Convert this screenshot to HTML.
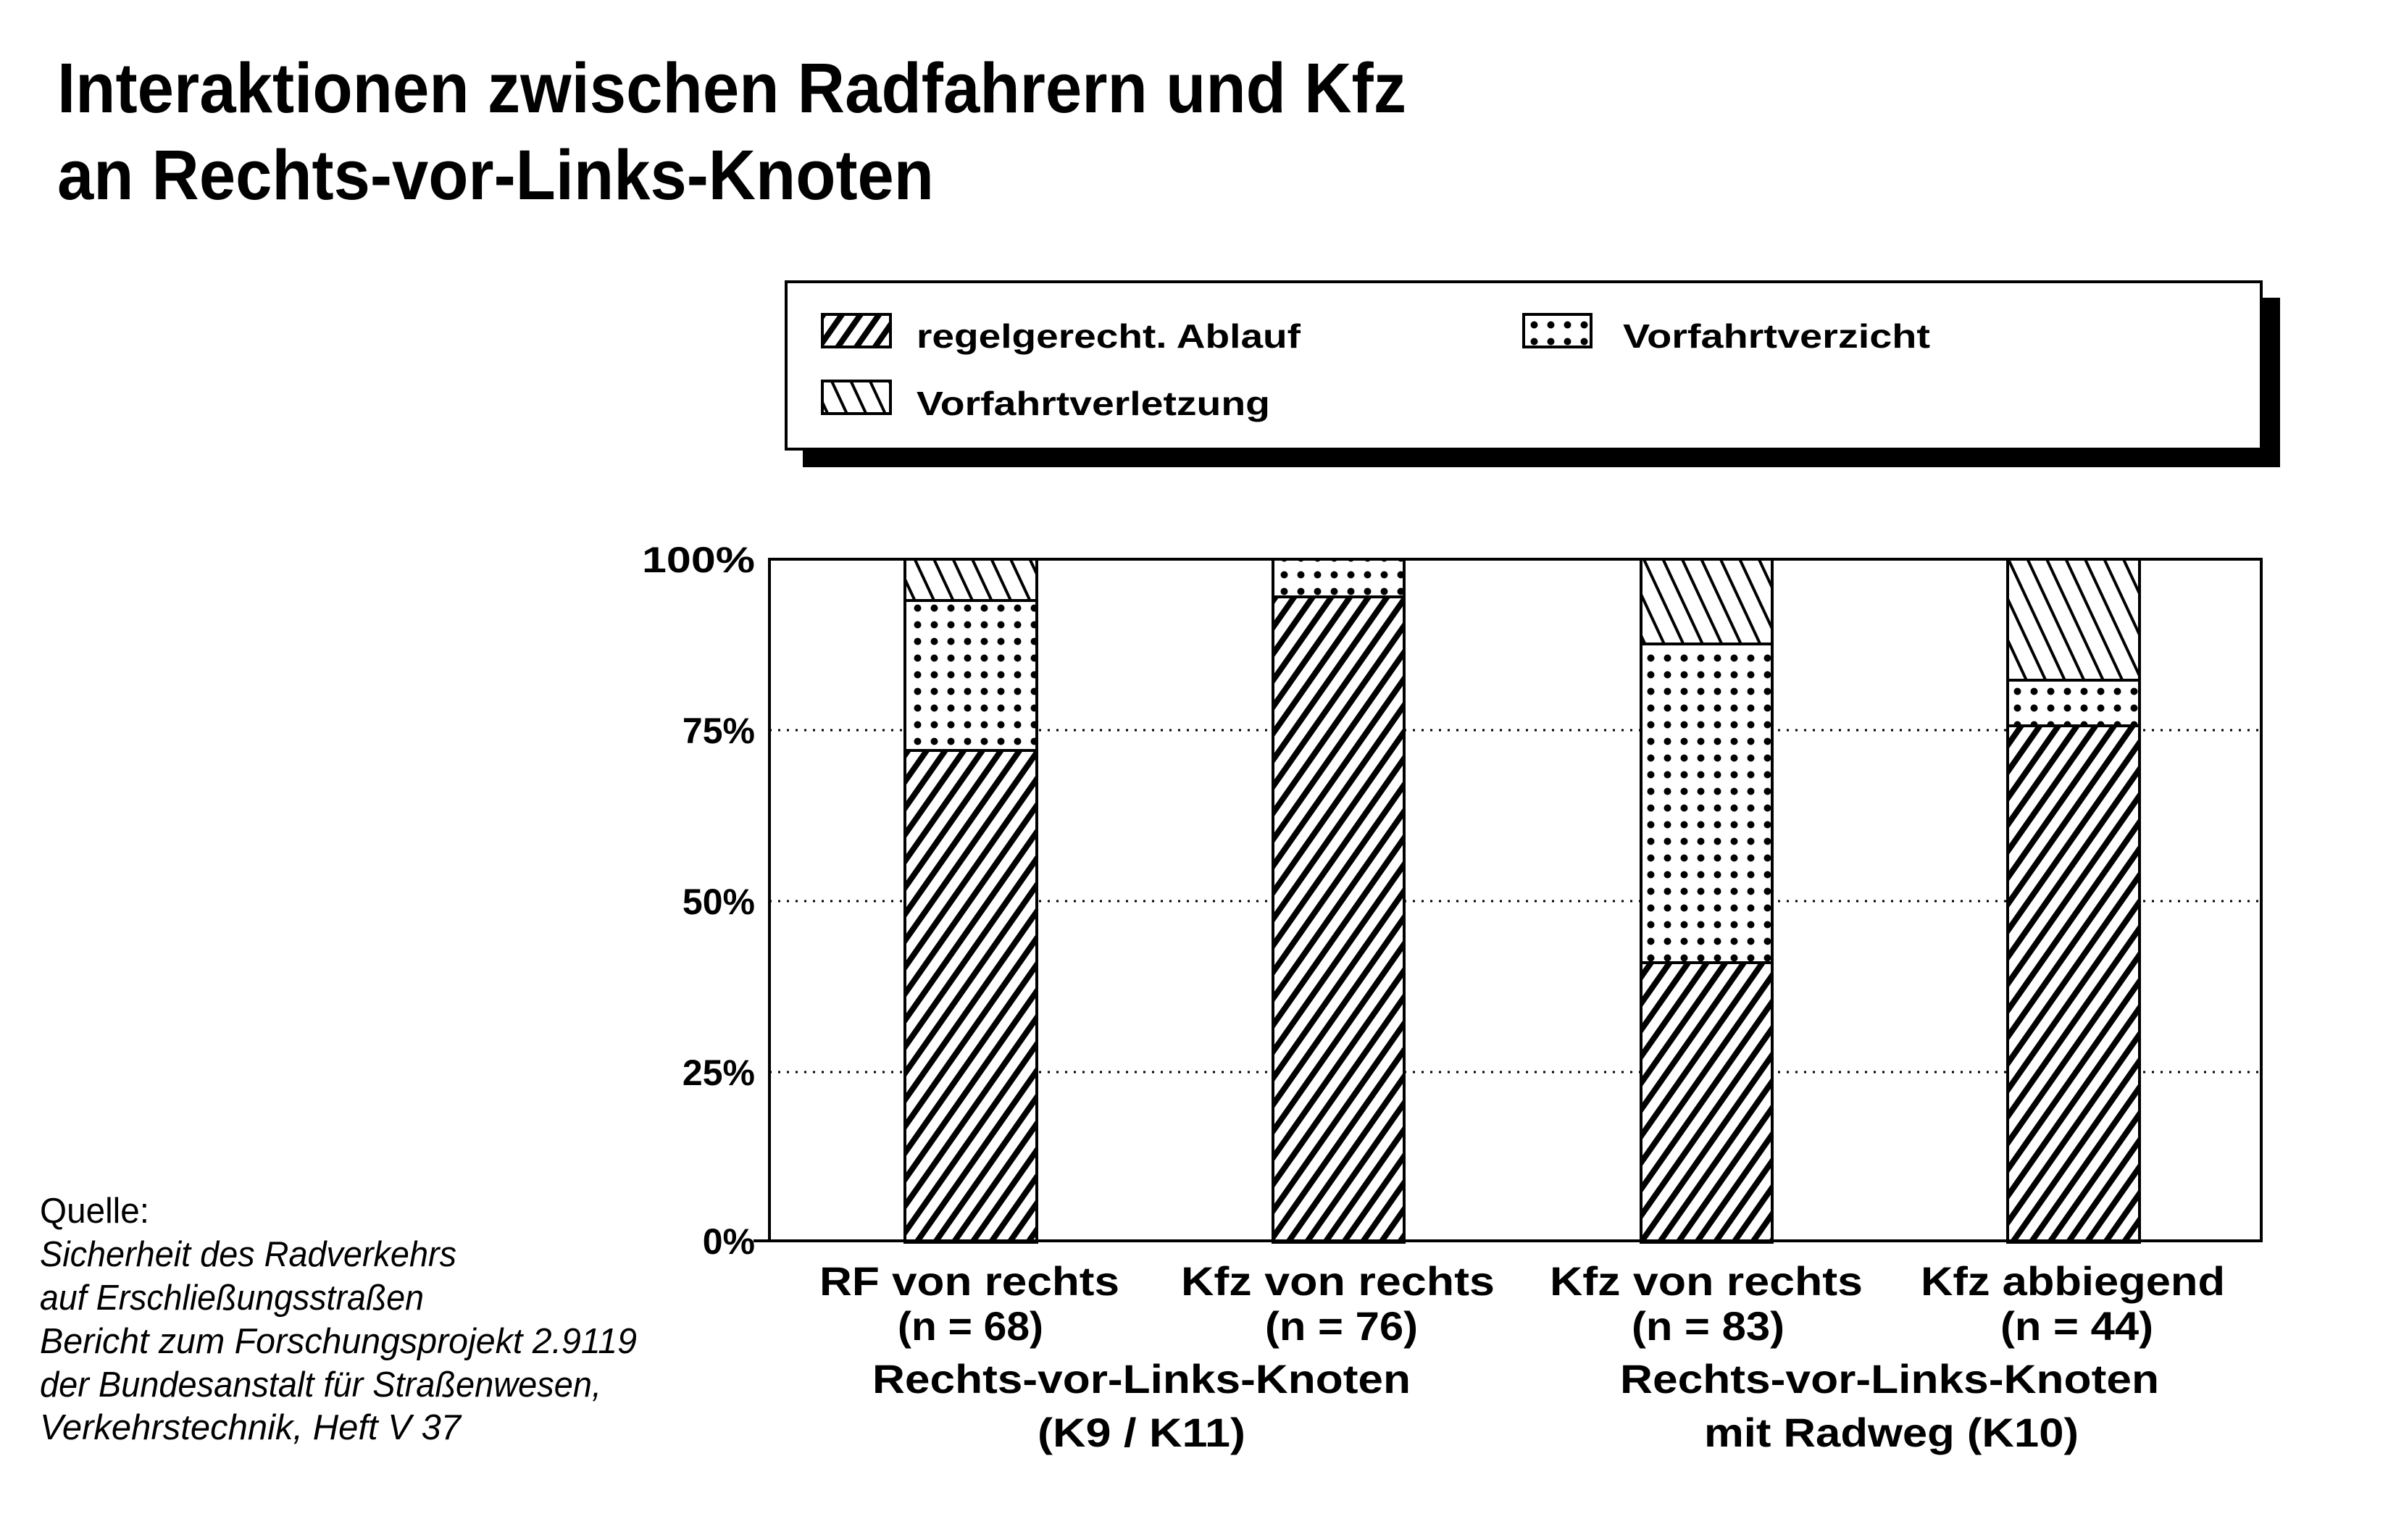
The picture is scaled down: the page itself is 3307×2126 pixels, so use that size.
<!DOCTYPE html>
<html><head><meta charset="utf-8"><style>html,body{margin:0;padding:0;background:#fff}svg{display:block}</style></head>
<body>
<svg width="3307" height="2126" viewBox="0 0 3307 2126" xmlns="http://www.w3.org/2000/svg">
<defs>
<pattern id="fw" patternUnits="userSpaceOnUse" width="21" height="21" patternTransform="rotate(35)">
<rect width="21" height="21" fill="#fff"/><rect x="0" y="0" width="8" height="21" fill="#000"/>
</pattern>
<pattern id="bk" patternUnits="userSpaceOnUse" width="24" height="24" patternTransform="rotate(-25)">
<rect width="24" height="24" fill="#fff"/><rect x="0" y="0" width="4" height="24" fill="#000"/>
</pattern>
<pattern id="dt" patternUnits="userSpaceOnUse" x="1255" y="0" width="23" height="23">
<rect width="23" height="23" fill="#fff"/><circle cx="11.5" cy="11.5" r="5" fill="#000"/>
</pattern>
</defs>
<g font-family="Liberation Sans, sans-serif" font-weight="bold" fill="#000">
<text x="79" y="155" font-size="97" textLength="1862" lengthAdjust="spacingAndGlyphs">Interaktionen zwischen Radfahrern und Kfz</text>
<text x="79" y="275" font-size="97" textLength="1210" lengthAdjust="spacingAndGlyphs">an Rechts-vor-Links-Knoten</text>
</g>
<g font-family="Liberation Sans, sans-serif" font-size="49" fill="#000">
<text x="55" y="1688" textLength="151" lengthAdjust="spacingAndGlyphs">Quelle:</text>
<g font-style="italic">
<text x="55" y="1748" textLength="575" lengthAdjust="spacingAndGlyphs">Sicherheit des Radverkehrs</text>
<text x="55" y="1808" textLength="530" lengthAdjust="spacingAndGlyphs">auf Erschließungsstraßen</text>
<text x="55" y="1868" textLength="824" lengthAdjust="spacingAndGlyphs">Bericht zum Forschungsprojekt 2.9119</text>
<text x="55" y="1928" textLength="775" lengthAdjust="spacingAndGlyphs">der Bundesanstalt für Straßenwesen,</text>
<text x="55" y="1987" textLength="581" lengthAdjust="spacingAndGlyphs">Verkehrstechnik, Heft V 37</text>
</g></g>
<!-- legend -->
<rect x="1108" y="411" width="2039" height="234" fill="#000"/>
<rect x="1085" y="389" width="2036" height="231" fill="#fff" stroke="#000" stroke-width="4"/>
<rect x="1135" y="434" width="94" height="45" fill="url(#fw)" stroke="#000" stroke-width="4"/>
<rect x="2103" y="434" width="93" height="45" fill="url(#dt)" stroke="#000" stroke-width="4"/>
<rect x="1135" y="526" width="94" height="45" fill="url(#bk)" stroke="#000" stroke-width="4"/>
<g font-family="Liberation Sans, sans-serif" font-weight="bold" font-size="46" fill="#000">
<text x="1265" y="480" textLength="530" lengthAdjust="spacingAndGlyphs">regelgerecht. Ablauf</text>
<text x="2240" y="480" textLength="424" lengthAdjust="spacingAndGlyphs">Vorfahrtverzicht</text>
<text x="1265" y="573" textLength="488" lengthAdjust="spacingAndGlyphs">Vorfahrtverletzung</text>
</g>
<!-- grid -->
<g stroke="#000" stroke-width="3" stroke-dasharray="3 9">
<line x1="1062" y1="1008" x2="3121" y2="1008"/>
<line x1="1062" y1="1244" x2="3121" y2="1244"/>
<line x1="1062" y1="1480" x2="3121" y2="1480"/>
</g>
<g stroke="#000" stroke-width="4">
<rect x="1249" y="772" width="182" height="57" fill="url(#bk)"/>
<rect x="1249" y="829" width="182" height="207" fill="url(#dt)"/>
<rect x="1249" y="1036" width="182" height="679" fill="url(#fw)"/>
<rect x="1757" y="772" width="181" height="52" fill="url(#dt)"/>
<rect x="1757" y="824" width="181" height="891" fill="url(#fw)"/>
<rect x="2265" y="772" width="181" height="117" fill="url(#bk)"/>
<rect x="2265" y="889" width="181" height="440" fill="url(#dt)"/>
<rect x="2265" y="1329" width="181" height="386" fill="url(#fw)"/>
<rect x="2771" y="772" width="182" height="167" fill="url(#bk)"/>
<rect x="2771" y="939" width="182" height="63" fill="url(#dt)"/>
<rect x="2771" y="1002" width="182" height="713" fill="url(#fw)"/>
</g>
<rect x="1062" y="772" width="2059" height="941" fill="none" stroke="#000" stroke-width="4"/>
<line x1="1040" y1="1713" x2="3121" y2="1713" stroke="#000" stroke-width="4"/>
<g font-family="Liberation Sans, sans-serif" font-weight="bold" font-size="50" fill="#000" text-anchor="end">
<text x="1042" y="790" textLength="156" lengthAdjust="spacingAndGlyphs">100%</text>
<text x="1042" y="1026">75%</text>
<text x="1042" y="1262">50%</text>
<text x="1042" y="1498">25%</text>
<text x="1042" y="1731">0%</text>
</g>
<g font-family="Liberation Sans, sans-serif" font-weight="bold" font-size="56" fill="#000">
<text x="1131" y="1788" textLength="414" lengthAdjust="spacingAndGlyphs">RF von rechts</text>
<text x="1239" y="1850" textLength="201" lengthAdjust="spacingAndGlyphs">(n = 68)</text>
<text x="1630" y="1788" textLength="433" lengthAdjust="spacingAndGlyphs">Kfz von rechts</text>
<text x="1746" y="1850" textLength="211" lengthAdjust="spacingAndGlyphs">(n = 76)</text>
<text x="2139" y="1788" textLength="432" lengthAdjust="spacingAndGlyphs">Kfz von rechts</text>
<text x="2252" y="1850" textLength="211" lengthAdjust="spacingAndGlyphs">(n = 83)</text>
<text x="2651" y="1788" textLength="420" lengthAdjust="spacingAndGlyphs">Kfz abbiegend</text>
<text x="2761" y="1850" textLength="211" lengthAdjust="spacingAndGlyphs">(n = 44)</text>
<text x="1204" y="1923" textLength="743" lengthAdjust="spacingAndGlyphs">Rechts-vor-Links-Knoten</text>
<text x="1432" y="1997" textLength="287" lengthAdjust="spacingAndGlyphs">(K9 / K11)</text>
<text x="2236" y="1923" textLength="744" lengthAdjust="spacingAndGlyphs">Rechts-vor-Links-Knoten</text>
<text x="2352" y="1997" textLength="517" lengthAdjust="spacingAndGlyphs">mit Radweg (K10)</text>
</g>
</svg>
</body></html>
